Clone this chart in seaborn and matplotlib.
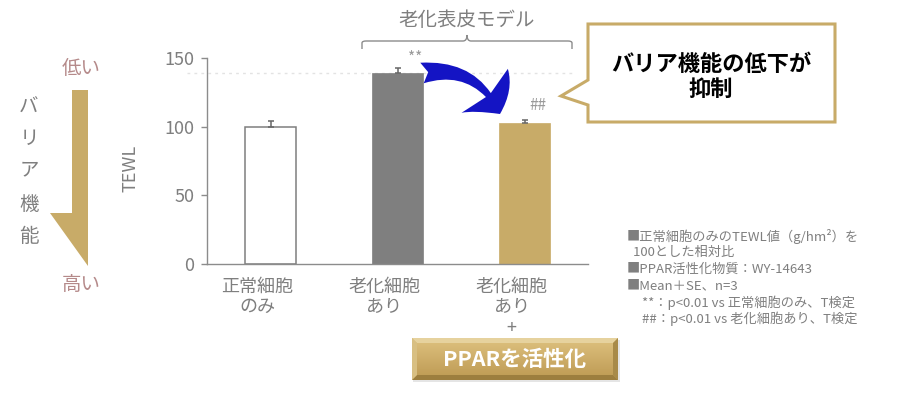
import matplotlib
matplotlib.use("Agg")
import matplotlib.pyplot as plt
import seaborn as sns
import pandas as pd
import numpy as np
from matplotlib.patches import Polygon, Rectangle, FancyArrowPatch
from matplotlib.path import Path
from matplotlib.patches import PathPatch
import matplotlib.transforms as mtransforms

# ---------------- data ----------------
categories = ["正常細胞\nのみ", "老化細胞\nあり", "老化細胞\nあり\n+"]
tewl = [100, 139, 102.5]
se = [4, 4, 2.5]
marks = ["", "**", "##"]
yticks = [0, 50, 100, 150]
bar_colors = ["#FFFFFF", "#7F7F7F", "#C8AB68"]
notes = [
    "■正常細胞のみのTEWL値（g/hm²）を",
    "  100とした相対比",
    "■PPAR活性化物質：WY-14643",
    "■Mean＋SE、n=3",
    "     **：p<0.01 vs 正常細胞のみ、T検定",
    "     ##：p<0.01 vs 老化細胞あり、T検定",
]

sns.set_theme(style="white")
plt.rcParams['font.family'] = ['Noto Sans CJK JP', 'DejaVu Sans']

GRAY = "#7F7F7F"
AXC = "#8C8C8C"
TAN = "#C8AB68"

W, H = 918, 400
fig = plt.figure(figsize=(W / 100, H / 100), dpi=100)


def fx(px):
    return px / W


def fy(py):
    return 1 - py / H


ax = fig.add_axes([fx(207), fy(264), fx(588) - fx(207), fy(58) - fy(264)])
df = pd.DataFrame({"cat": categories, "TEWL": tewl})
sns.barplot(data=df, x="cat", y="TEWL", hue="cat", palette=bar_colors,
            width=0.4, ax=ax, legend=False, errorbar=None, saturation=1)
for i, p in enumerate(ax.patches):
    if i == 0:
        p.set_edgecolor(GRAY)
        p.set_linewidth(1.1)
    else:
        p.set_edgecolor(bar_colors[i])
        p.set_linewidth(0.5)

ax.errorbar(range(len(tewl)), tewl, yerr=[np.zeros(len(se)), se], fmt='none',
            ecolor="#666666", elinewidth=1.1, capsize=2.5, capthick=1.1, zorder=3)

# reference dashed line at aged level
ax.plot([-0.66, 2.38], [tewl[1], tewl[1]], ls=(0, (2, 3)), color="#E3E3E3",
        lw=1, clip_on=False, zorder=0.5)

ax.set_xlim(-0.5, 2.5)
ax.set_ylim(0, 150)
ax.set_yticks(yticks)
ax.set_yticklabels([str(v) for v in yticks], fontsize=13, color=GRAY)
ax.set_xticks(range(len(categories)))
ax.set_xticklabels(categories, fontsize=13, color=GRAY, linespacing=1.17)
ax.set_xticks([-0.5, 0.5, 1.5, 2.5], minor=True)
ax.tick_params(axis='x', which='major', length=0, pad=10)
ax.tick_params(axis='x', which='minor', length=6.5, width=1, color=AXC, direction='out')
ax.tick_params(axis='y', which='major', length=4.3, width=1, color=AXC, direction='out', pad=5, left=True)
ax.set_xlabel("")
ax.set_ylabel("")
for s in ["top", "right"]:
    ax.spines[s].set_visible(False)
for s in ["left", "bottom"]:
    ax.spines[s].set_color(AXC)
    ax.spines[s].set_linewidth(1)
offset = mtransforms.ScaledTranslation(-13 / 100, 0, fig.dpi_scale_trans)
for lab in ax.get_xticklabels():
    lab.set_transform(lab.get_transform() + offset)

# significance marks
ax.annotate(marks[1], (1, tewl[1] + se[1]), xytext=(13, 6.5), textcoords='offset points',
            ha='center', va='center', fontsize=11, color="#9A9A9A")
ax.annotate(marks[2], (2, tewl[2] + se[2]), xytext=(9.5, 10), textcoords='offset points',
            ha='center', va='center', fontsize=11, color="#9A9A9A")

# ---------------- overlay (pixel coordinates) ----------------
ov = fig.add_axes([0, 0, 1, 1], zorder=5)
ov.set_xlim(0, W)
ov.set_ylim(H, 0)
ov.axis('off')
ov.patch.set_alpha(0)

fig.text(fx(131), fy(168), "TEWL", rotation=90, ha='center', va='center', fontsize=13, color=GRAY)

# left arrow
ov.add_patch(Polygon([(72, 90), (88, 90), (88, 266), (50, 213), (72, 213)],
                     closed=True, facecolor=TAN, edgecolor='none'))
ov.text(81, 68, "低い", ha='center', va='center', fontsize=14, color="#B58A8A")
ov.text(81, 284, "高い", ha='center', va='center', fontsize=14, color="#B58A8A")
for ch, yy in zip("バリア機能", [107, 138, 170, 205, 237]):
    ov.text(29, yy, ch, ha='center', va='center', fontsize=14, color=GRAY)

# bracket
verts = [(362, 49), (362, 43), (362, 41), (366, 41), (463, 41), (467, 41), (467, 35),
         (467, 41), (471, 41), (568, 41), (572, 41), (572, 43), (572, 49)]
codes = [Path.MOVETO, Path.LINETO, Path.CURVE3, Path.CURVE3, Path.LINETO, Path.CURVE3, Path.CURVE3,
         Path.CURVE3, Path.CURVE3, Path.LINETO, Path.CURVE3, Path.CURVE3, Path.LINETO]
ov.add_patch(PathPatch(Path(verts, codes), facecolor='none', edgecolor="#8C8C8C", lw=1))
ov.text(467, 21, "老化表皮モデル", ha='center', va='center', fontsize=14, color=GRAY)

# blue curved arrow
arr = FancyArrowPatch((422, 73), (500, 114), connectionstyle="arc3,rad=-0.38",
                      arrowstyle="fancy,head_length=2.0,head_width=4.6,tail_width=1.5",
                      mutation_scale=10, color="#1414C4", shrinkA=0, shrinkB=0, lw=0)
ov.add_patch(arr)

# callout
ov.add_patch(Polygon([(588, 24), (835, 24), (835, 122), (588, 122), (588, 105), (561, 96), (588, 80)],
                     closed=True, facecolor='white', edgecolor=TAN, lw=2.2, joinstyle='miter'))
ov.text(711, 77, "バリア機能の低下が\n抑制", ha='center', va='center', fontsize=16,
        fontweight='bold', color='black', linespacing=1.1)

# notes
for k, line in enumerate(notes):
    ov.text(627, 236 + k * 16.6, line, ha='left', va='center', fontsize=9.5, color=GRAY)

# PPAR button
ov.add_patch(Rectangle((413, 340), 207, 42, facecolor="#000000", alpha=0.10, edgecolor='none'))
grad = np.linspace(0, 1, 50).reshape(-1, 1)
c_top = np.array([0.87, 0.76, 0.50])
c_bot = np.array([0.74, 0.60, 0.32])
img = c_top + (c_bot - c_top) * grad[:, :, None] * np.ones((1, 2, 1))
ov.imshow(img, extent=[412, 618, 380, 338], aspect='auto', zorder=2, interpolation='bilinear')
ov.add_patch(Polygon([(412, 338), (618, 338), (613, 343), (417, 343)], facecolor="#E6D29E", edgecolor='none', zorder=3))
ov.add_patch(Polygon([(412, 380), (618, 380), (613, 375), (417, 375)], facecolor="#9C7E3E", edgecolor='none', zorder=3))
ov.add_patch(Polygon([(412, 338), (417, 343), (417, 375), (412, 380)], facecolor="#D8BF82", edgecolor='none', zorder=3))
ov.add_patch(Polygon([(618, 338), (613, 343), (613, 375), (618, 380)], facecolor="#A88A48", edgecolor='none', zorder=3))
ov.text(515, 359, "PPARを活性化", ha='center', va='center', fontsize=15.5, fontweight='bold',
        color='white', zorder=4)
ov.set_xlim(0, W)
ov.set_ylim(H, 0)

fig.savefig("out.png", dpi=100)
